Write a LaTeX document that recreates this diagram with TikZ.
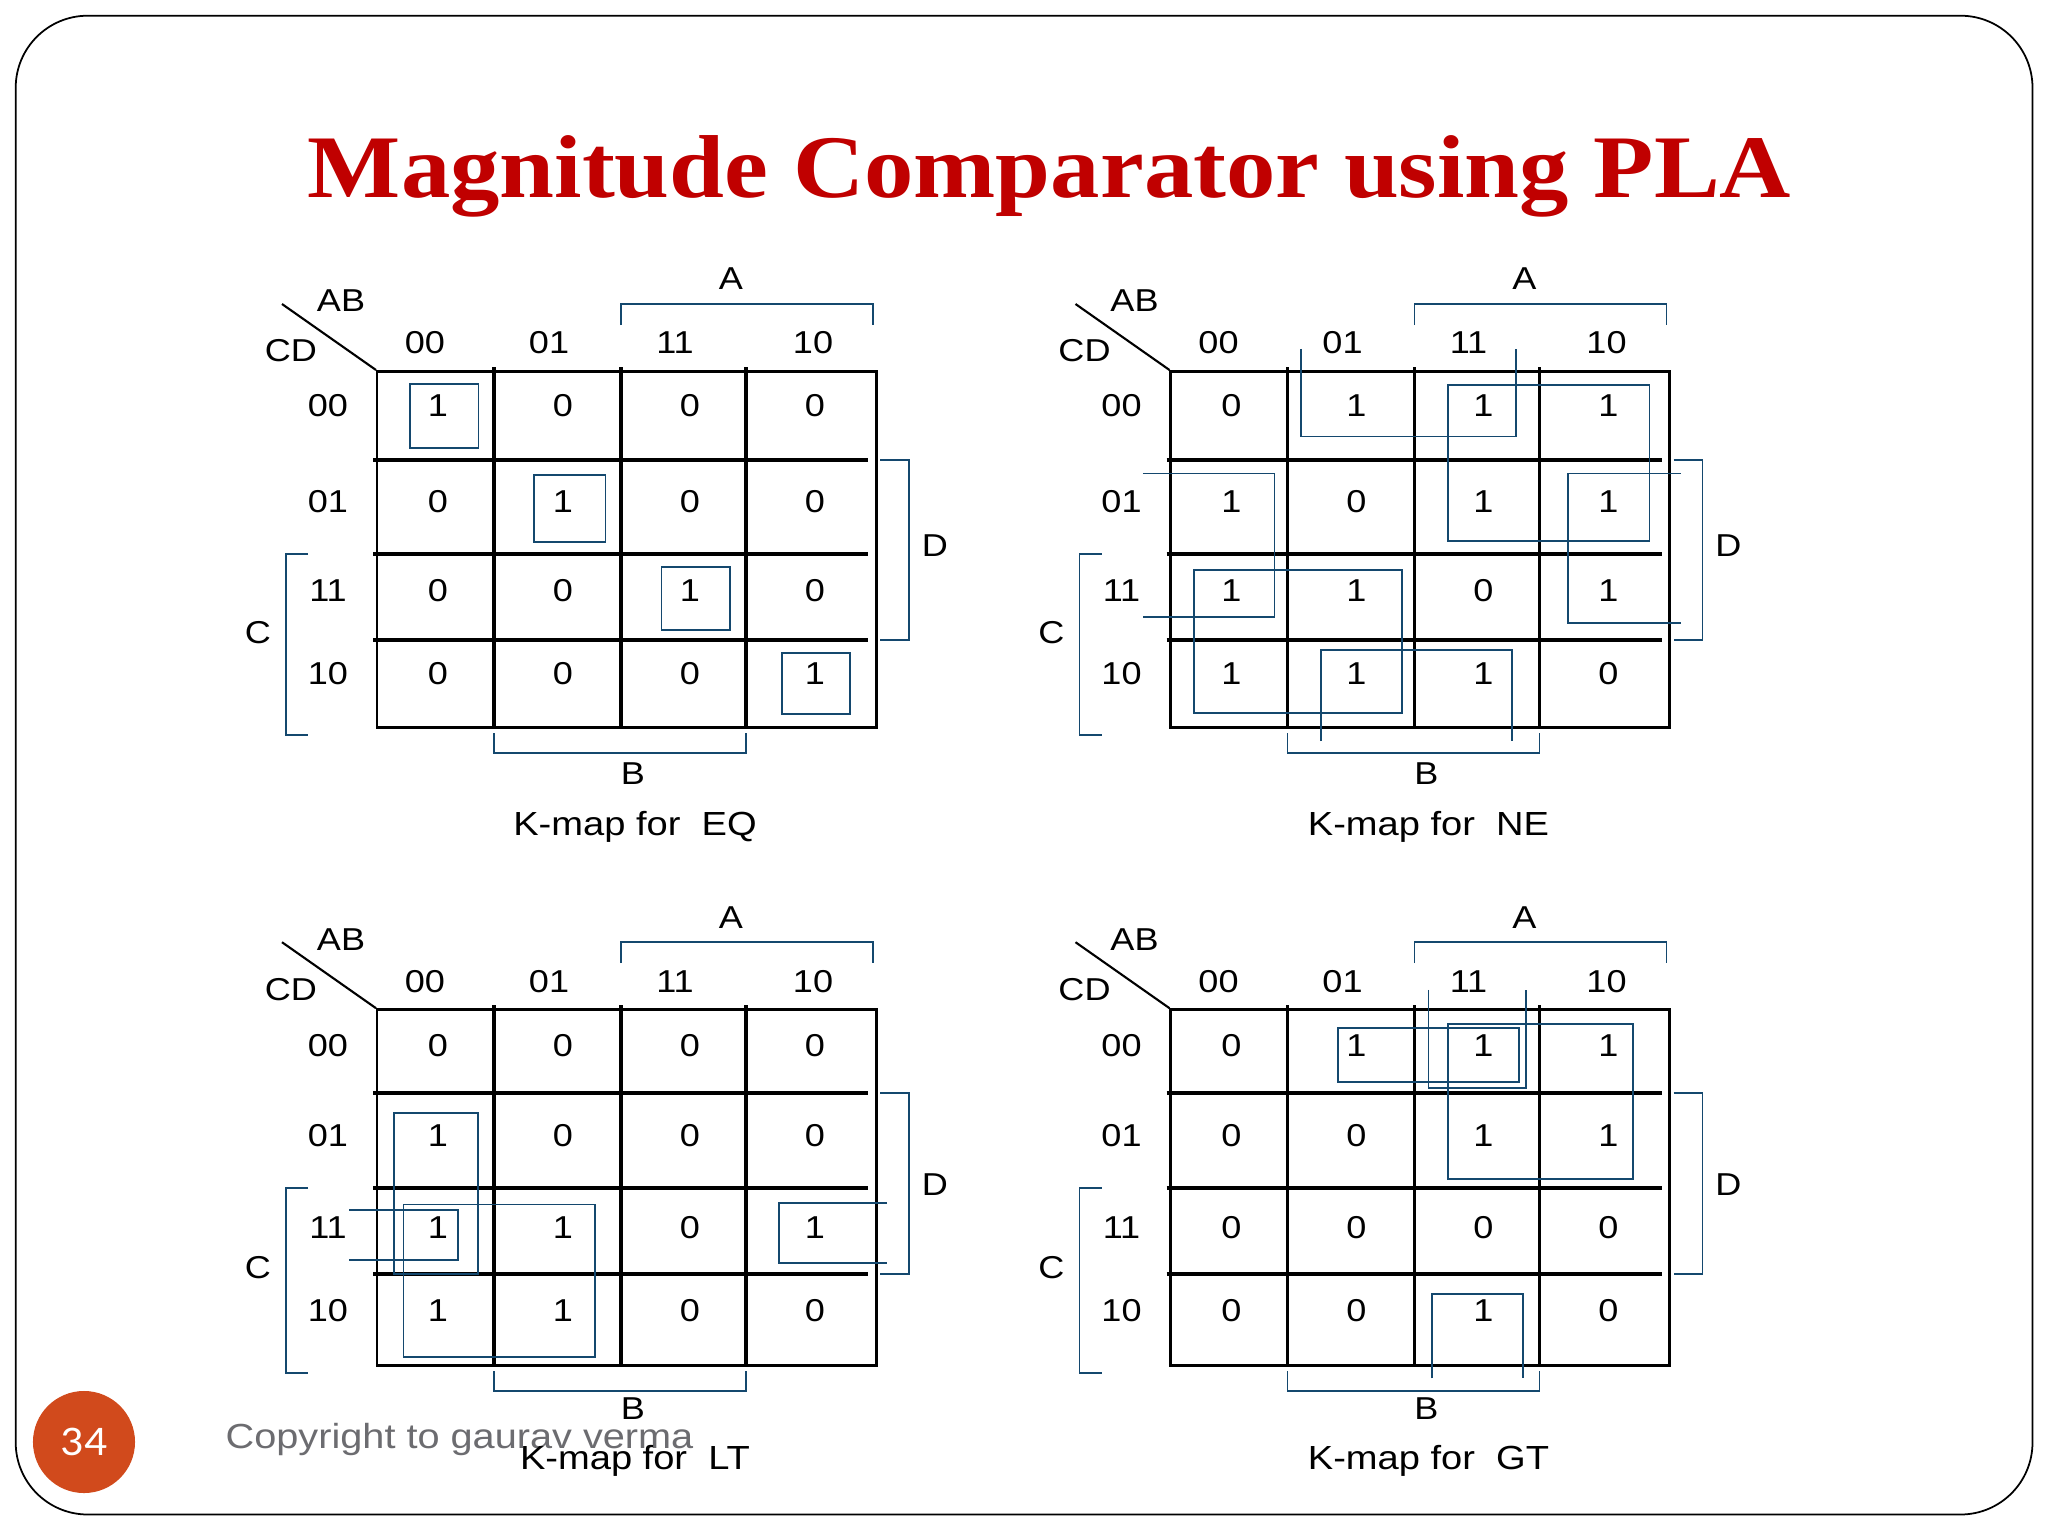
\documentclass[tikz,border=0pt]{standalone}
\usepackage{fontspec}
\newfontfamily\kfont[FakeStretch=1.14]{Liberation Sans}
\newfontfamily\ttlfont[FakeStretch=1.105]{Liberation Serif}
\newfontfamily\numfont[FakeStretch=1.08]{Carlito}
\definecolor{ttlred}{RGB}{192,0,0}
\definecolor{loopblue}{RGB}{20,72,110}
\definecolor{pgorange}{RGB}{209,74,28}
\definecolor{cpgray}{RGB}{108,108,112}
\tikzset{
  gridout/.style={line width=0.85pt, draw=black},
  gridin/.style={line width=1pt, draw=black},
  diagline/.style={line width=0.6pt, draw=black},
  grp/.style={line width=0.55pt, draw=loopblue},
  brk/.style={line width=0.55pt, draw=loopblue},
  ktext/.style={inner sep=0pt, font=\kfont\fontsize{9}{10}\selectfont},
  klabel/.style={inner sep=0pt, anchor=base, font=\kfont\fontsize{9.5}{11}\selectfont},
}
% #1 prefix, #2 name, #3 #4 #5 row lines, #6 row centres, #7 cell values
\newcommand{\kmap}[7]{%
  \draw[gridout] (377,371) rectangle (876,727);
  \foreach \gx in {494,621,746} \draw[gridin] (\gx,367) -- (\gx,727);
  \foreach \gy in {#3,#4,#5} \draw[gridin] (373,\gy) -- (868,\gy);
  \draw[diagline] (282,304) -- (376,370);
  \node[ktext] (#1-ab) at (341,301) {AB};
  \node[ktext] (#1-cd) at (291,351) {CD};
  \foreach \lab [count=\k from 0] in {00,01,11,10} {
    \pgfmathsetmacro\hx{{425,549,675,813}[\k]}
    \pgfmathsetmacro\hy{{#6}[\k]}
    \node[ktext] (#1-col\k) at (\hx,343) {\lab};
    \node[ktext] (#1-row\k) at (328,\hy) {\lab};
  }
  \foreach \v [count=\k from 0] in {#7} {
    \pgfmathtruncatemacro\rr{int(\k/4)}
    \pgfmathtruncatemacro\cc{mod(\k,4)}
    \pgfmathsetmacro\cx{{438,563,690,815}[\cc]}
    \pgfmathsetmacro\cy{{#6}[\rr]}
    \node[ktext] (#1-v\k) at (\cx,\cy) {\v};
  }
  \draw[brk] (621,325) -- (621,304) -- (873,304) -- (873,325);
  \node[ktext] (#1-A) at (731,279) {A};
  \draw[brk] (494,733) -- (494,753) -- (746,753) -- (746,733);
  \node[ktext] (#1-B) at (633,#5+134) {B};
  \draw[brk] (308,#4) -- (286,#4) -- (286,735) -- (308,735);
  \node[ktext] (#1-C) at (258,#5-7) {C};
  \draw[brk] (880,#3) -- (909,#3) -- (909,#5) -- (880,#5);
  \node[ktext] (#1-D) at (935,546) {D};
  \node[klabel] (#1-title) at (635,#5+195) {K-map for~~#2};
}
\begin{document}
\begin{tikzpicture}[x=0.01cm, y=-0.01cm]
\useasboundingbox (0,0) rectangle (2048,1536);
\fill[white] (0,0) rectangle (2048,1536);
\draw[line width=0.5pt, rounded corners=0.72cm] (15.7,15.7) rectangle (2032.5,1514.5);
\node[anchor=base, text=ttlred, inner sep=0pt,
      font=\ttlfont\bfseries\fontsize{25.4}{30}\selectfont] (title) at (1049.5,197)
      {Magnitude Comparator using PLA};
% footer
\node[circle, fill=pgorange, minimum size=1.02cm, inner sep=0pt, text=white,
      font=\numfont\fontsize{12}{14}\selectfont] (pagenum) at (84,1442) {34};
\node[anchor=base west, inner sep=0pt, text=cpgray,
      font=\kfont\fontsize{9.9}{12}\selectfont] (copyright) at (225,1448)
      {Copyright to gaurav verma};
% EQ
\begin{scope}
  \kmap{eq}{EQ}{460}{554}{640}{406,502,591,674}{1,0,0,0,0,1,0,0,0,0,1,0,0,0,0,1}
  \draw[grp] (410,384) rectangle (478.5,447.6);
  \draw[grp] (533.6,475.3) rectangle (605.5,541.9);
  \draw[grp] (661.5,567) rectangle (729.6,630);
  \draw[grp] (781.6,652.9) rectangle (850.1,714.3);
\end{scope}
% NE
\begin{scope}[shift={(793.5,0)}]
  \kmap{ne}{NE}{460}{554}{640}{406,502,591,674}{0,1,1,1,1,0,1,1,1,1,0,1,1,1,1,0}
  \draw[grp] (507.8,348.8) -- (507.8,436.5) -- (722.9,436.5) -- (722.9,348.8);
  \draw[grp] (527.8,741) -- (527.8,650.3) -- (718.9,650.3) -- (718.9,741);
  \draw[grp] (654.2,384.7) rectangle (856,541.2);
  \draw[grp] (887.2,473.5) -- (774.7,473.5) -- (774.7,622.6) -- (887.2,622.6);
  \draw[grp] (349.3,473.5) -- (481,473.5) -- (481,617) -- (349.3,617);
  \draw[grp] (400.6,570) rectangle (608.2,713.2);
\end{scope}
% LT
\begin{scope}[shift={(0,638.2)}]
  \kmap{lt}{LT}{455}{550}{636}{407,497,589,672}{0,0,0,0,1,0,0,0,1,1,0,1,1,1,0,0}
  \draw[grp] (393.9,474.9) rectangle (478,635.4);
  \draw[grp] (403.5,566.3) rectangle (595.1,718.7);
  \draw[grp] (349.3,571.8) -- (457.7,571.8) -- (457.7,621.7) -- (349.3,621.7);
  \draw[grp] (887,564.4) -- (779.4,564.4) -- (779.4,624.7) -- (887,624.7);
\end{scope}
% GT
\begin{scope}[shift={(793.5,638.2)}]
  \kmap{gt}{GT}{455}{550}{636}{407,497,589,672}{0,1,1,1,0,0,1,1,0,0,0,0,0,0,1,0}
  \draw[grp] (544.4,389.4) rectangle (725.6,444.2);
  \draw[grp] (635,351.7) -- (635,449.7) -- (732.3,449.7) -- (732.3,351.7);
  \draw[grp] (638.1,740.1) -- (638.1,655.8) -- (729.2,655.8) -- (729.2,740.1);
  \draw[grp] (654.2,386.1) rectangle (839.4,541.1);
\end{scope}
\end{tikzpicture}
\end{document}
